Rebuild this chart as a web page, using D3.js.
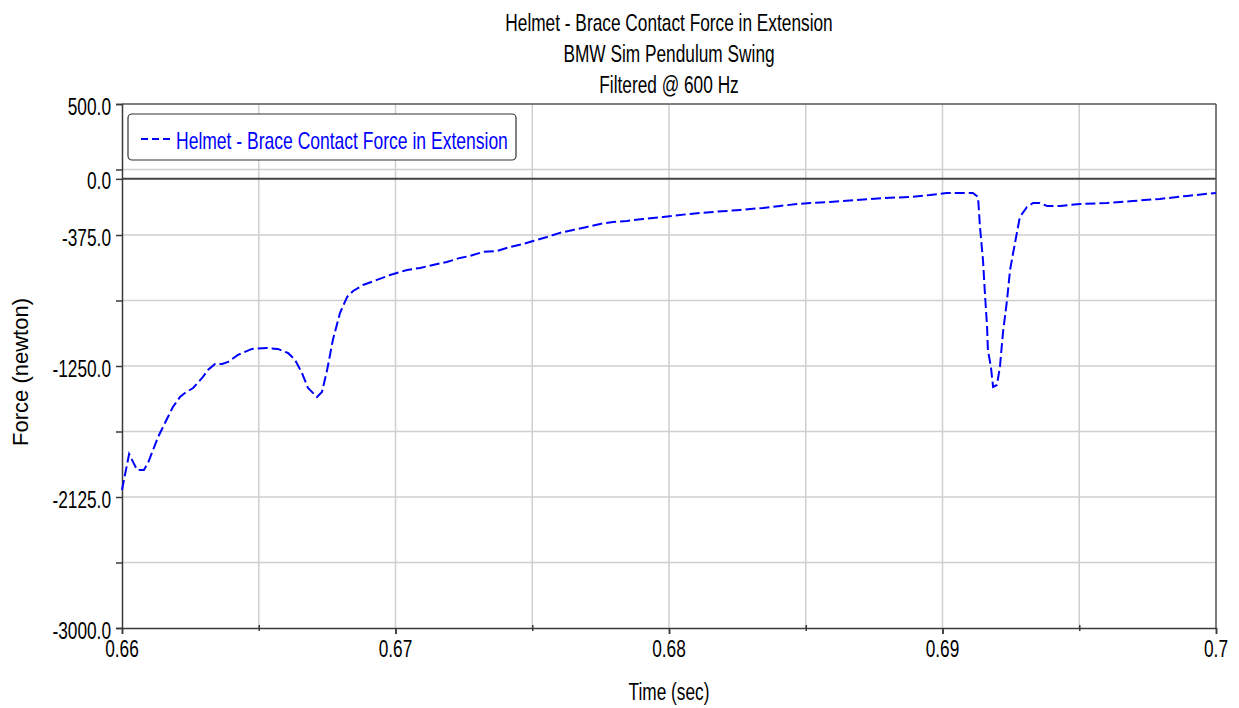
<!DOCTYPE html>
<html>
<head>
<meta charset="utf-8">
<script src="https://cdn.jsdelivr.net/npm/d3@7"></script>
<style>
  html, body { margin: 0; padding: 0; background: #fff; }
  svg { display: block; }
  text { font-family: 'Liberation Sans Narrow', 'Liberation Sans', Arial, sans-serif; }
</style>
</head>
<body>
<svg id="chart" width="1239" height="708"></svg>
<script>
// ---- data ----
const titleLines = ["Helmet - Brace Contact Force in Extension", "BMW Sim Pendulum Swing", "Filtered @ 600 Hz"];
const seriesName = "Helmet - Brace Contact Force in Extension";
const xLabel = "Time (sec)";
const yLabel = "Force (newton)";
const xTickValues = [0.66, 0.67, 0.68, 0.69, 0.70];
const xTickLabels = ["0.66", "0.67", "0.68", "0.69", "0.7"];
const xGridValues = [0.665, 0.67, 0.675, 0.68, 0.685, 0.69, 0.695];
const yTickValues = [500, 0, -375, -1250, -2125, -3000];
const yTickLabels = ["500.0", "0.0", "-375.0", "-1250.0", "-2125.0", "-3000.0"];
const yGridValues = [62.5, -375, -812.5, -1250, -1687.5, -2125, -2562.5];
const yMinorTicks = [500, 62.5, 0, -375, -812.5, -1250, -1687.5, -2125, -2562.5, -3000];

const time = [0.66000,0.66026,0.66055,0.66080,0.66095,0.66132,0.66157,0.66186,0.66212,0.66230,
  0.66260,0.66293,0.66314,0.66340,0.66366,0.66388,0.66424,0.66475,0.66530,0.66570,
  0.66607,0.66633,0.66658,0.66680,0.66713,0.66731,0.66750,0.66771,0.66797,0.66823,
  0.66845,0.66881,0.66932,0.66980,0.67042,0.67090,0.67137,0.67188,0.67236,0.67272,
  0.67320,0.67371,0.67419,0.67466,0.67503,0.67554,0.67601,0.67649,0.67700,0.67748,
  0.67795,0.67846,0.67905,0.67978,0.68077,0.68161,0.68260,0.68344,0.68406,0.68468,
  0.68516,0.68589,0.68687,0.68782,0.68881,0.68954,0.69016,0.69111,0.69130,0.69137,
  0.69148,0.69155,0.69163,0.69166,0.69177,0.69185,0.69199,0.69210,0.69221,0.69236,
  0.69247,0.69265,0.69283,0.69309,0.69331,0.69356,0.69382,0.69430,0.69503,0.69601,
  0.69696,0.69795,0.69894,0.70000];
const force = [-2078,-1838,-1944,-1944,-1898,-1724,-1631,-1524,-1457,-1430,
  -1397,-1330,-1277,-1236,-1236,-1223,-1176,-1136,-1130,-1136,
  -1163,-1210,-1297,-1397,-1457,-1424,-1277,-1076,-896,-789,
  -749,-709,-675,-642,-609,-595,-575,-555,-528,-515,
  -488,-482,-455,-435,-415,-388,-361,-341,-321,-301,
  -288,-281,-268,-254,-234,-221,-208,-194,-181,-168,
  -161,-154,-141,-128,-121,-108,-94,-94,-121,-321,
  -542,-762,-989,-1143,-1256,-1390,-1377,-1256,-1029,-809,
  -609,-428,-254,-188,-161,-161,-181,-181,-168,-161,
  -148,-134,-114,-94];

// ---- layout ----
const svg = d3.select("#chart");
const pL = 122, pR = 1216, pT = 104, pB = 628;
const x = d3.scaleLinear().domain([0.66, 0.70]).range([pL, pR]);
const y = d3.scaleLinear().domain([-3000, 500]).range([pB, pT]);

const gridColor = "#cfcfcf";
const axisColor = "#3a3a3a";
const FS = 24, SX = 0.72; // condensed text look

function ctext(parent, px, py, str, anchor, color, sx) {
  return parent.append("text")
    .attr("transform", `translate(${px},${py}) scale(${sx || SX},1)`)
    .attr("text-anchor", anchor).attr("font-size", FS)
    .attr("fill", color || "#000").text(str);
}

// grid
svg.append("g").selectAll("line").data(xGridValues).join("line")
  .attr("x1", d => x(d)).attr("x2", d => x(d)).attr("y1", pT).attr("y2", pB)
  .attr("stroke", gridColor).attr("stroke-width", 1.5);
svg.append("g").selectAll("line").data(yGridValues).join("line")
  .attr("x1", pL).attr("x2", pR).attr("y1", d => y(d)).attr("y2", d => y(d))
  .attr("stroke", gridColor).attr("stroke-width", 1.5);

// zero line
svg.append("line").attr("x1", pL).attr("x2", pR).attr("y1", y(0)).attr("y2", y(0))
  .attr("stroke", "#444").attr("stroke-width", 2);

// frame top/right
svg.append("line").attr("x1", pL).attr("x2", pR).attr("y1", pT).attr("y2", pT)
  .attr("stroke", "#555").attr("stroke-width", 1.5);
svg.append("line").attr("x1", pR).attr("x2", pR).attr("y1", pT).attr("y2", pB)
  .attr("stroke", "#555").attr("stroke-width", 1.5);

// axes
const yAxis = d3.axisLeft(y).tickValues(yMinorTicks).tickSize(6).tickFormat("");
const gy = svg.append("g").attr("transform", `translate(${pL},0)`).call(yAxis);
gy.select(".domain").attr("stroke", axisColor).attr("stroke-width", 1.5);
gy.selectAll(".tick line").attr("stroke", axisColor).attr("stroke-width", 1.5);

const xAxis = d3.axisBottom(x).tickValues(xTickValues.concat(xGridValues)).tickSize(6).tickFormat("");
const gx = svg.append("g").attr("transform", `translate(0,${pB})`).call(xAxis);
gx.select(".domain").attr("stroke", axisColor).attr("stroke-width", 1.5);
gx.selectAll(".tick line").attr("stroke", axisColor).attr("stroke-width", 1.5)
  .attr("y1", d => xTickValues.includes(d) ? 0 : -3).attr("y2", d => xTickValues.includes(d) ? 6 : 3);

// tick labels
const gyl = svg.append("g");
yTickValues.forEach((v, i) => ctext(gyl, pL - 11, y(v) + 10.5, yTickLabels[i], "end"));
const gxl = svg.append("g");
xTickValues.forEach((v, i) => ctext(gxl, x(v), pB + 29, xTickLabels[i], "middle"));

// axis titles
ctext(svg, (pL + pR) / 2, 700, xLabel, "middle");
svg.append("text")
  .attr("transform", `translate(28,${(pT + pB) / 2 + 6}) rotate(-90)`)
  .attr("text-anchor", "middle").attr("font-size", 22)
  .style("font-family", "'Liberation Sans', Arial, sans-serif").text(yLabel);

// titles
titleLines.forEach((t, i) => ctext(svg, (pL + pR) / 2, 30.5 + i * 31, t, "middle"));

// line
const pts = time.map((t, i) => [t, force[i]]);
const line = d3.line().x(d => x(d[0])).y(d => y(d[1]));
svg.append("path").datum(pts)
  .attr("d", line).attr("fill", "none").attr("stroke", "#0000ff")
  .attr("stroke-width", 2).attr("stroke-dasharray", "10,4");

// legend
const lg = svg.append("g");
lg.append("rect").attr("x", 128).attr("y", 114).attr("width", 388).attr("height", 46)
  .attr("rx", 4).attr("ry", 4).attr("fill", "#fff").attr("stroke", "#333").attr("stroke-width", 1.2);
lg.append("line").attr("x1", 141).attr("x2", 172).attr("y1", 139).attr("y2", 139)
  .attr("stroke", "#0000ff").attr("stroke-width", 2).attr("stroke-dasharray", "7,4");
ctext(lg, 176, 148.5, seriesName, "start", "#0000ff", 0.73);
</script>
</body>
</html>
